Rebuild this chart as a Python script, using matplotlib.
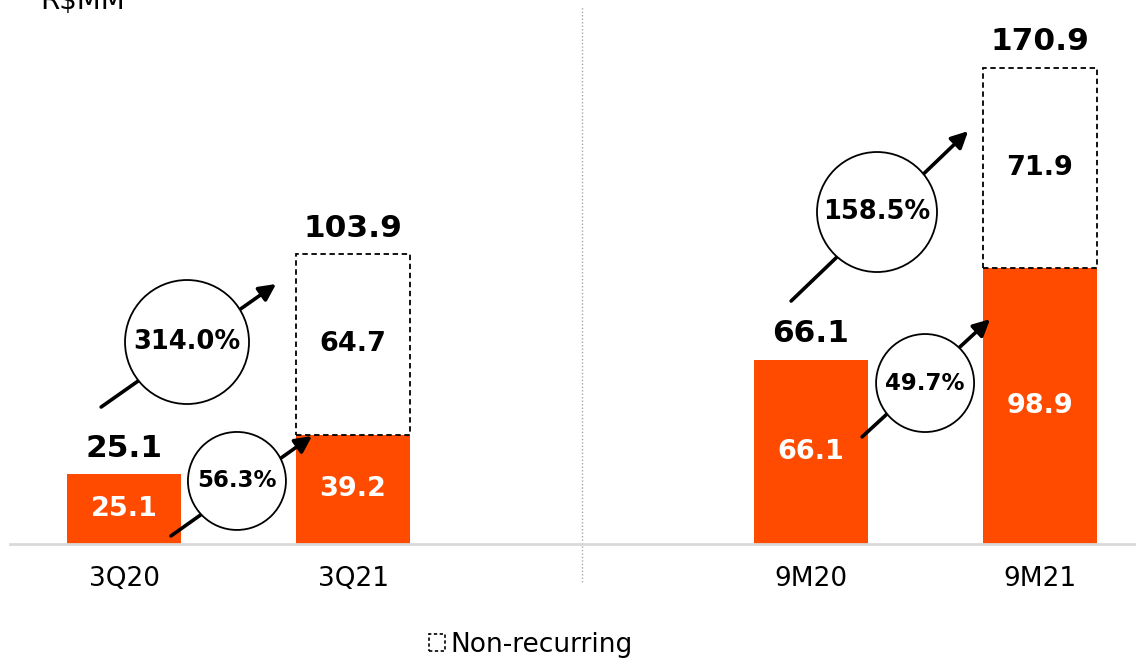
import matplotlib
matplotlib.use("Agg")
import matplotlib.pyplot as plt
from matplotlib.patches import Ellipse, Patch

plt.rcParams['font.family'] = ['DejaVu Sans']

# Data (R$ MM)
categories = ["3Q20", "3Q21", "9M20", "9M21"]
positions = [0, 1, 3, 4]
recurring = [25.1, 39.2, 66.1, 98.9]
non_recurring = [0.0, 64.7, 0.0, 71.9]
totals = [25.1, 103.9, 66.1, 170.9]

# Growth annotations: label, arrow start/end, circle centre, radius (px), font size
growth_labels = ["314.0%", "56.3%", "49.7%", "158.5%"]
growth_arrows = [((-0.10, 49.1), (0.664, 93.2)),
                 ((0.205, 2.9), (0.821, 38.7)),
                 ((3.223, 38.4), (3.782, 80.6)),
                 ((2.913, 87.1), (3.686, 148.0))]
growth_centres = [(0.275, 72.4), (0.493, 22.6), (3.498, 57.7), (3.288, 119.0)]
growth_radii = [62, 49, 49, 60]
growth_fs = [18.5, 16.5, 16.5, 18.5]

ORANGE = "#FF4B00"

W, H = 1136, 661
fig = plt.figure(figsize=(W / 100, H / 100), dpi=100)
ax_left, ax_bottom = 10 / W, (H - 544) / H
ax_w, ax_h = (W - 10) / W, 544 / H
ax = fig.add_axes([ax_left, ax_bottom, ax_w, ax_h])
xmin, xmax = -0.498, 4.419
ymin, ymax = 0, 195
ax.set_xlim(xmin, xmax)
ax.set_ylim(ymin, ymax)

# pixels per data unit
sx = ax_w * W / (xmax - xmin)
sy = ax_h * H / (ymax - ymin)

bw = 0.5
ax.bar(positions, recurring, width=bw, color=ORANGE, zorder=2)
nr_pos = [p for p, n in zip(positions, non_recurring) if n > 0]
nr_val = [n for n in non_recurring if n > 0]
nr_bot = [r for r, n in zip(recurring, non_recurring) if n > 0]
ax.bar(nr_pos, nr_val, width=bw, bottom=nr_bot, facecolor="white",
       edgecolor="black", linestyle=(0, (3, 2)), linewidth=1.3, zorder=2)

for x, r, n, t in zip(positions, recurring, non_recurring, totals):
    ax.text(x, r / 2, f"{r:.1f}", ha="center", va="center", color="white",
            fontsize=19.5, fontweight="bold", zorder=4)
    if n > 0:
        ax.text(x, r + n / 2, f"{n:.1f}", ha="center", va="center", color="black",
                fontsize=19.5, fontweight="bold", zorder=4)
    ax.annotate(f"{t:.1f}", (x, t), xytext=(0, 8), textcoords="offset points",
                ha="center", va="bottom", fontsize=22.5, fontweight="bold", zorder=4)

for lab, (s, e), c, r, fs in zip(growth_labels, growth_arrows, growth_centres,
                                 growth_radii, growth_fs):
    ax.annotate("", xy=e, xytext=s,
                arrowprops=dict(arrowstyle="-|>", lw=2.6, color="black",
                                mutation_scale=25, shrinkA=0, shrinkB=0),
                zorder=5)
    ax.add_patch(Ellipse(c, 2 * r / sx, 2 * r / sy, facecolor="white",
                         edgecolor="black", linewidth=1.3, zorder=6))
    ax.text(c[0], c[1], lab, ha="center", va="center", fontsize=fs,
            fontweight="bold", zorder=7)

# Divider between quarter and year-to-date groups
ax.plot([2, 2], [-13.6, 192.5], color="#a6a6a6", linestyle=(0, (1, 1.5)),
        linewidth=1, clip_on=False, zorder=1)

for sp in ["top", "right", "left"]:
    ax.spines[sp].set_visible(False)
ax.spines["bottom"].set_color("#d9d9d9")
ax.spines["bottom"].set_linewidth(2)
ax.set_yticks([])
ax.set_xticks(positions)
ax.set_xticklabels(categories, fontsize=19)
ax.tick_params(axis="x", length=0, pad=16)

fig.text(40 / W, 1 - 9 / H, "R$MM", fontsize=20, ha="left", va="baseline")

fig.legend(handles=[Patch(facecolor="white", edgecolor="black",
                          linestyle=(0, (2, 1.5)), linewidth=1.2)],
           labels=["Non-recurring"], loc="center", bbox_to_anchor=(531 / W, 1 - 645 / H),
           frameon=False, fontsize=19, handlelength=0.6, handleheight=0.6,
           handletextpad=0.2)

fig.savefig("out.png", dpi=100)
